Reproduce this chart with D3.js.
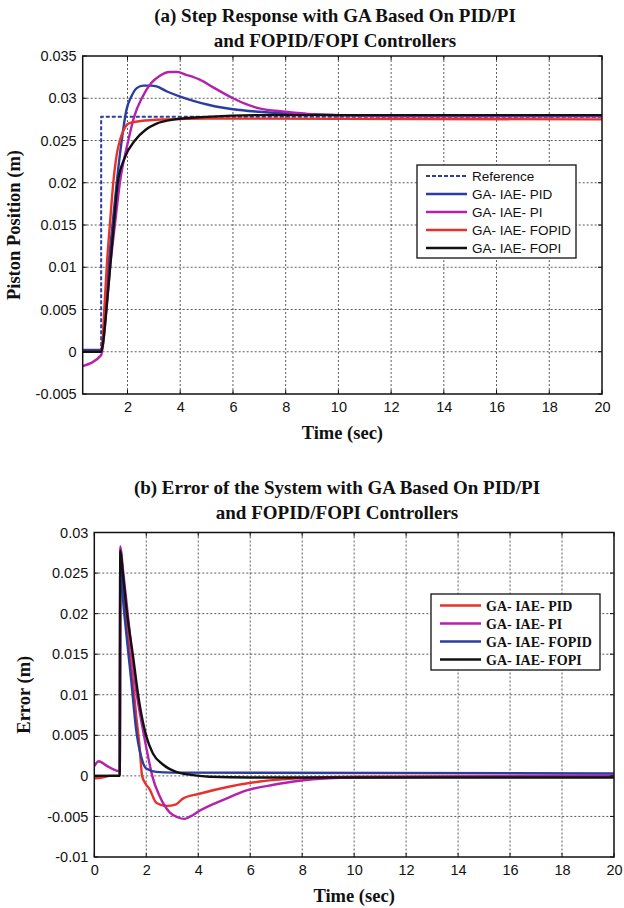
<!DOCTYPE html>
<html>
<head>
<meta charset="utf-8">
<script src="https://cdn.jsdelivr.net/npm/d3@7"></script>
<style>
  body { margin: 0; background: #fff; }
  svg text { fill: #111; }
</style>
</head>
<body>
<div class="container"></div>
<script>
// ---- data ----
// (a) step response, [time, position]
const refStep = [[0.3, 0], [1.0, 0], [1.0, 0.0278], [20, 0.0278]];
const pidStep = [[0.3, 0.0002], [1.0, 0.0002], [1.05, 0.001], [1.15, 0.005], [1.27, 0.01], [1.43, 0.015], [1.59, 0.02], [1.78, 0.025], [1.95, 0.0285], [2.16, 0.0303], [2.35, 0.0312], [2.6, 0.0315], [2.9, 0.0315], [3.1, 0.0314], [3.5, 0.0308], [4.0, 0.0302], [4.5, 0.0297], [5.1, 0.0292], [6.0, 0.0287], [7.0, 0.0284], [8.0, 0.0282], [9, 0.0281], [10, 0.028], [12, 0.0279], [20, 0.0279]];
const piStep = [[0.3, -0.0017], [1.0, -0.0004], [1.08, 0.001], [1.2, 0.005], [1.34, 0.01], [1.52, 0.015], [1.71, 0.02], [2.03, 0.025], [2.25, 0.0278], [2.54, 0.03], [2.9, 0.0318], [3.2, 0.0326], [3.6, 0.0331], [3.9, 0.0331], [4.2, 0.0328], [4.74, 0.0322], [5.3, 0.0312], [6.0, 0.03], [6.5, 0.0293], [7.0, 0.0288], [8.0, 0.0284], [9.0, 0.0281], [10, 0.028], [12, 0.0279], [20, 0.0279]];
const fopidStep = [[0.3, 0], [1.0, 0], [1.05, 0.001], [1.12, 0.005], [1.21, 0.01], [1.33, 0.015], [1.46, 0.02], [1.6, 0.0235], [1.71, 0.025], [1.85, 0.0262], [2.03, 0.027], [2.5, 0.0273], [3.5, 0.0275], [5, 0.0276], [20, 0.0275]];
const fopiStep = [[0.3, 0], [1.0, 0], [1.07, 0.001], [1.2, 0.005], [1.34, 0.01], [1.48, 0.015], [1.63, 0.02], [1.9, 0.023], [2.28, 0.025], [2.7, 0.0263], [3.1, 0.027], [3.8, 0.0275], [5, 0.0278], [7, 0.028], [20, 0.028]];

// (b) error, [time, error]
const pidErr = [[0, -0.0003], [0.3, -0.0002], [0.6, 0], [0.98, 0], [1.0, 0.028], [1.1, 0.0245], [1.22, 0.0199], [1.35, 0.0155], [1.48, 0.0118], [1.61, 0.0075], [1.74, 0.0037], [1.84, 0], [1.98, -0.001], [2.12, -0.0016], [2.38, -0.0033], [2.6, -0.0036], [2.77, -0.0037], [3.15, -0.0035], [3.41, -0.0028], [4.05, -0.0022], [5.08, -0.0014], [6.37, -0.0007], [7.9, -0.0003], [10, -0.0001], [20, 0]];
const piErr = [[0, 0.0012], [0.17, 0.0018], [0.5, 0.0012], [0.94, 0.0006], [0.98, 0.0006], [1.0, 0.0283], [1.1, 0.0255], [1.22, 0.022], [1.4, 0.0165], [1.61, 0.0106], [1.87, 0.0057], [2.12, 0.0016], [2.23, 0], [2.5, -0.0024], [2.9, -0.0045], [3.2, -0.0051], [3.47, -0.0053], [3.7, -0.005], [4.05, -0.0043], [5.08, -0.0028], [5.86, -0.0018], [6.9, -0.0011], [7.9, -0.0006], [9, -0.0003], [10, -0.0002], [20, 0]];
const fopidErr = [[0, 0], [0.98, 0], [1.0, 0.0275], [1.1, 0.022], [1.22, 0.0179], [1.42, 0.0118], [1.61, 0.0057], [1.8, 0.0024], [2.0, 0.0009], [2.38, 0.0005], [3, 0.0004], [20, 0.0003]];
const fopiErr = [[0, 0], [0.98, 0], [1.0, 0.0278], [1.1, 0.025], [1.22, 0.0211], [1.48, 0.015], [1.74, 0.0089], [2.0, 0.0049], [2.25, 0.0028], [2.64, 0.0014], [3.15, 0.0005], [3.8, 0.0001], [4.44, -0.0001], [6, -0.0002], [20, -0.0002]];

const stepXTicks = [2, 4, 6, 8, 10, 12, 14, 16, 18, 20];
const stepYTicks = [-0.005, 0, 0.005, 0.01, 0.015, 0.02, 0.025, 0.03, 0.035];
const errXTicks = [0, 2, 4, 6, 8, 10, 12, 14, 16, 18, 20];
const errYTicks = [-0.01, -0.005, 0, 0.005, 0.01, 0.015, 0.02, 0.025, 0.03];

const stepNames = ['Reference', 'GA- IAE- PID', 'GA- IAE- PI', 'GA- IAE- FOPID', 'GA- IAE- FOPI'];
const errNames = ['GA- IAE- PID', 'GA- IAE- PI', 'GA- IAE- FOPID', 'GA- IAE- FOPI'];

const BLUE = '#2d3d9f', MAGENTA = '#b322ad', RED = '#e5332a', BLACK = '#111';
const SERIF = 'Liberation Serif, Times New Roman, serif';
const SANS = 'Liberation Sans, Arial, sans-serif';

const width = 624, height = 908;
const svg = d3.select('.container').append('svg')
  .attr('width', width).attr('height', height);

function panel(opt) {
  const { left, right, top, bottom } = opt;
  const x = d3.scaleLinear().domain(opt.xDomain).range([left, right]);
  const y = d3.scaleLinear().domain(opt.yDomain).range([bottom, top]);
  const g = svg.append('g');

  // grid
  g.selectAll('.vg').data(opt.xTicks.filter(t => x(t) > left + 1 && x(t) < right - 1)).enter()
    .append('line')
    .attr('x1', d => x(d)).attr('x2', d => x(d)).attr('y1', top).attr('y2', bottom)
    .attr('stroke', '#333').attr('stroke-width', 0.8).attr('stroke-dasharray', '2,2');
  g.selectAll('.hg').data(opt.yTicks.filter(t => y(t) > top + 1 && y(t) < bottom - 1)).enter()
    .append('line')
    .attr('y1', d => y(d)).attr('y2', d => y(d)).attr('x1', left).attr('x2', right)
    .attr('stroke', '#333').attr('stroke-width', 0.8).attr('stroke-dasharray', '2,2');

  // clip
  const cid = 'clip' + opt.id;
  svg.append('clipPath').attr('id', cid).append('rect')
    .attr('x', left).attr('y', top).attr('width', right - left).attr('height', bottom - top);

  const line = d3.line().x(d => x(d[0])).y(d => y(d[1])).curve(d3.curveMonotoneX);
  const lineLin = d3.line().x(d => x(d[0])).y(d => y(d[1]));
  opt.series.forEach(s => {
    g.append('path').datum(s.data)
      .attr('clip-path', `url(#${cid})`)
      .attr('d', s.dash ? lineLin : line)
      .attr('fill', 'none').attr('stroke', s.color)
      .attr('stroke-width', s.dash ? 2 : 2.4)
      .attr('stroke-dasharray', s.dash ? '4,2' : null)
      .attr('stroke-linejoin', 'round');
  });

  // axes
  const xAxis = d3.axisBottom(x).tickValues(opt.xTicks).tickSize(0).tickPadding(8).tickFormat(d => String(d));
  const yAxis = d3.axisLeft(y).tickValues(opt.yTicks).tickSize(0).tickPadding(6).tickFormat(d => String(+d.toFixed(3)));
  const ax = g.append('g').attr('transform', `translate(0,${bottom})`).call(xAxis);
  const ay = g.append('g').attr('transform', `translate(${left},0)`).call(yAxis);
  [ax, ay].forEach(a => {
    a.select('.domain').remove();
    a.selectAll('text').attr('font-family', SANS).attr('font-size', 14.5).attr('fill', '#111');
  });

  // inner ticks
  opt.xTicks.forEach(t => {
    g.append('line').attr('x1', x(t)).attr('x2', x(t)).attr('y1', bottom).attr('y2', bottom - 4).attr('stroke', '#111');
    g.append('line').attr('x1', x(t)).attr('x2', x(t)).attr('y1', top).attr('y2', top + 4).attr('stroke', '#111');
  });
  opt.yTicks.forEach(t => {
    g.append('line').attr('y1', y(t)).attr('y2', y(t)).attr('x1', left).attr('x2', left + 4).attr('stroke', '#111');
    g.append('line').attr('y1', y(t)).attr('y2', y(t)).attr('x1', right).attr('x2', right - 4).attr('stroke', '#111');
  });

  // frame
  g.append('rect').attr('x', left).attr('y', top).attr('width', right - left).attr('height', bottom - top)
    .attr('fill', 'none').attr('stroke', '#111').attr('stroke-width', 1.5);

  // titles
  const cx = (left + right) / 2;
  opt.title.forEach((t, i) => {
    g.append('text').attr('x', opt.titleX).attr('y', opt.titleY + i * 25)
      .attr('text-anchor', 'middle').attr('font-family', SERIF)
      .attr('font-weight', 'bold').attr('font-size', 19).text(t);
  });
  g.append('text').attr('x', cx).attr('y', bottom + 45)
    .attr('text-anchor', 'middle').attr('font-family', SERIF)
    .attr('font-weight', 'bold').attr('font-size', 18.5).text('Time (sec)');
  g.append('text')
    .attr('transform', `translate(${opt.yLabelX},${(top + bottom) / 2}) rotate(-90)`)
    .attr('text-anchor', 'middle').attr('font-family', SERIF)
    .attr('font-weight', 'bold').attr('font-size', 18.5).text(opt.yLabel);

  // legend
  const L = opt.legend;
  const lg = g.append('g');
  lg.append('rect').attr('x', L.x).attr('y', L.y).attr('width', L.w).attr('height', L.h)
    .attr('fill', '#fff').attr('stroke', '#111').attr('stroke-width', 1.3);
  L.items.forEach((it, i) => {
    const yy = L.y + L.first + i * L.step;
    lg.append('line').attr('x1', L.x + 9).attr('x2', L.x + 50).attr('y1', yy).attr('y2', yy)
      .attr('stroke', it.color).attr('stroke-width', it.dash ? 2 : 2.4)
      .attr('stroke-dasharray', it.dash ? '4,2' : null);
    lg.append('text').attr('x', L.x + 55).attr('y', yy).attr('dy', '0.36em')
      .attr('font-family', L.font).attr('font-weight', L.weight).attr('font-size', L.size)
      .text(it.name);
  });
}

panel({
  id: 'a', left: 82.7, right: 602, top: 56, bottom: 394,
  xDomain: [0.3, 20], yDomain: [-0.005, 0.035],
  xTicks: stepXTicks, yTicks: stepYTicks,
  series: [
    { data: refStep, color: BLUE, dash: true },
    { data: pidStep, color: BLUE },
    { data: piStep, color: MAGENTA },
    { data: fopidStep, color: RED },
    { data: fopiStep, color: BLACK }
  ],
  title: ['(a) Step Response with GA Based On PID/PI', 'and FOPID/FOPI Controllers'],
  titleX: 335, titleY: 22, yLabel: 'Piston Position (m)', yLabelX: 20,
  legend: {
    x: 417, y: 165, w: 159, h: 93, first: 11, step: 18,
    font: SANS, weight: 'normal', size: 13.5,
    items: [
      { name: stepNames[0], color: BLUE, dash: true },
      { name: stepNames[1], color: BLUE },
      { name: stepNames[2], color: MAGENTA },
      { name: stepNames[3], color: RED },
      { name: stepNames[4], color: BLACK }
    ]
  }
});

panel({
  id: 'b', left: 94.3, right: 614, top: 532.5, bottom: 857,
  xDomain: [0, 20], yDomain: [-0.01, 0.03],
  xTicks: errXTicks, yTicks: errYTicks,
  series: [
    { data: pidErr, color: RED },
    { data: piErr, color: MAGENTA },
    { data: fopidErr, color: BLUE },
    { data: fopiErr, color: BLACK }
  ],
  title: ['(b) Error of the System with GA Based On PID/PI', 'and FOPID/FOPI Controllers'],
  titleX: 337, titleY: 494, yLabel: 'Error (m)', yLabelX: 30,
  legend: {
    x: 431, y: 594, w: 169, h: 76, first: 11.5, step: 18,
    font: SERIF, weight: 'bold', size: 14,
    items: [
      { name: errNames[0], color: RED },
      { name: errNames[1], color: MAGENTA },
      { name: errNames[2], color: BLUE },
      { name: errNames[3], color: BLACK }
    ]
  }
});
</script>
</body>
</html>
